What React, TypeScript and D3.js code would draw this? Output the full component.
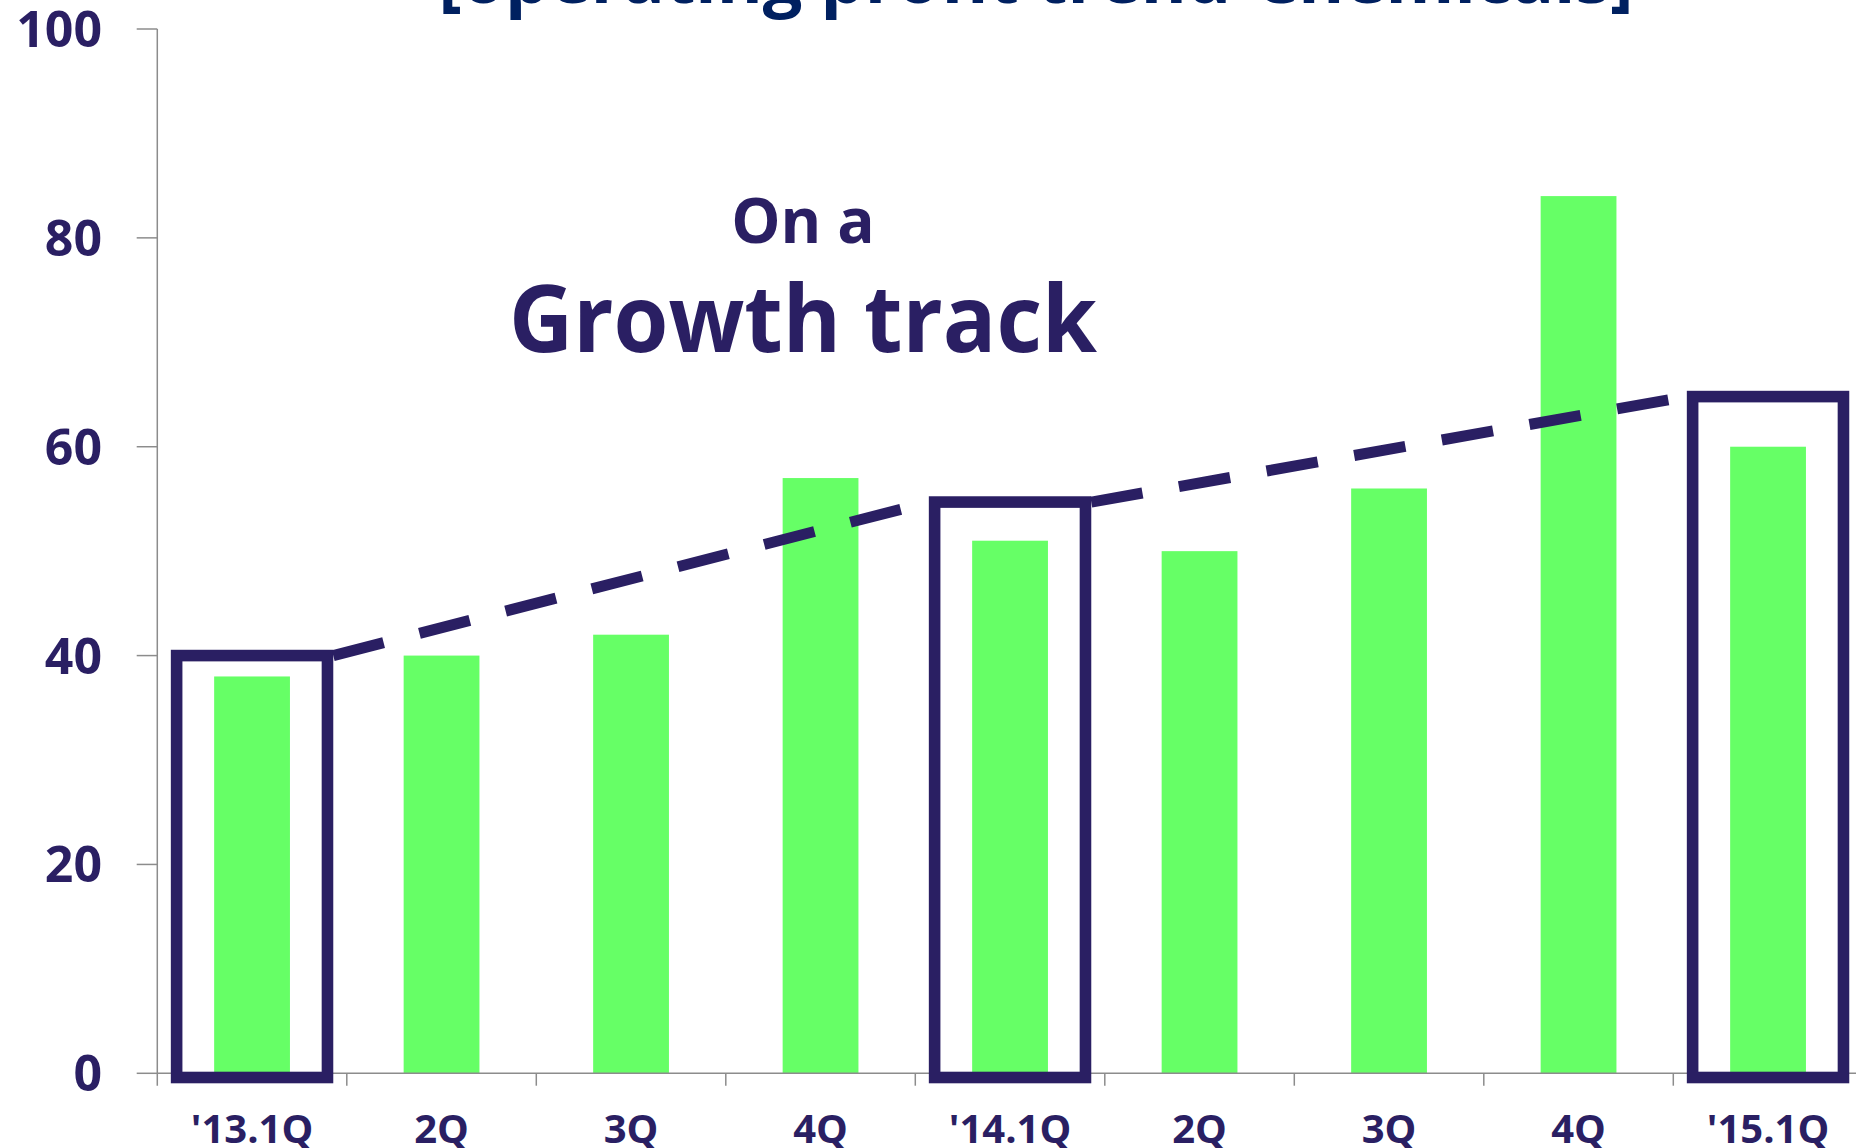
import React from "react";
import * as d3 from "d3";

const categories = ["'13.1Q", "2Q", "3Q", "4Q", "'14.1Q", "2Q ", "3Q ", "4Q ", "'15.1Q"];
const categoryLabels = ["'13.1Q", "2Q", "3Q", "4Q", "'14.1Q", "2Q", "3Q", "4Q", "'15.1Q"];
const profitValues = [38, 40, 42, 57, 51, 50, 56, 84, 60];
const yTicks = [0, 20, 40, 60, 80, 100];
const highlightIndices = [0, 4, 8];
const highlightTops = [40, 54.7, 64.8];
const titleText = "[operating profit trend-Chemicals]";
const annotationSmall = "On a";
const annotationLarge = "Growth track";

const W = 1856;
const H = 1148;
const NAVY = "#2a1f63";
const TITLE = "#002060";
const GREEN = "#66ff66";
const AXIS = "#8c8c8c";
const FONT = "'Open Sans', 'Noto Sans', sans-serif";

export default function App() {
  const x0 = 157.3;
  const band = 189.5;
  const x = d3
    .scaleBand<string>()
    .domain(categories)
    .range([x0, x0 + band * categories.length])
    .paddingInner(0)
    .paddingOuter(0);
  const y = d3.scaleLinear().domain([0, 100]).range([1073.3, 29]);
  const bw = x.bandwidth();
  const barW = bw * 0.4;
  const boxW = bw * 0.796;
  const boxStroke = 11.6;

  const boxes = highlightIndices.map((idx, i) => {
    const cx = (x(categories[idx]) as number) + bw / 2;
    return {
      cx,
      left: cx - boxW / 2,
      right: cx + boxW / 2,
      top: y(highlightTops[i]),
      bottom: y(0) + 4.2,
    };
  });

  const segs: [[number, number], [number, number]][] = d3.pairs(boxes).map(([a, b]) => [
    [a.right + boxStroke / 2, a.top],
    [b.left - boxStroke / 2, b.top],
  ]);

  return (
    <svg
      width={W}
      height={H}
      style={{ position: "absolute", left: 0, top: 0, background: "#fff" }}
      fontFamily={FONT}
    >
      <text
        x={1036}
        y={3}
        textAnchor="middle"
        fontSize={69}
        fontWeight={700}
        fill={TITLE}
        textLength={1195}
        lengthAdjust="spacingAndGlyphs"
      >
        {titleText}
      </text>

      {profitValues.map((v, i) => {
        const cx = (x(categories[i]) as number) + bw / 2;
        return (
          <rect
            key={i}
            x={cx - barW / 2}
            y={y(v)}
            width={barW}
            height={y(0) - y(v)}
            fill={GREEN}
          />
        );
      })}

      <line x1={x0} x2={x0} y1={y(100)} y2={y(0) + 12.4} stroke={AXIS} strokeWidth={1.5} />
      {yTicks.map((t) => (
        <g key={t}>
          <line x1={x0 - 20.6} x2={x0} y1={y(t)} y2={y(t)} stroke={AXIS} strokeWidth={1.5} />
          <text
            x={102}
            y={y(t)}
            dy="0.36em"
            textAnchor="end"
            fontSize={50}
            fontWeight={700}
            fill={NAVY}
          >
            {t}
          </text>
        </g>
      ))}

      <line x1={x0} x2={W} y1={y(0)} y2={y(0)} stroke={AXIS} strokeWidth={1.5} />
      {categories.map((c, i) => (
        <line
          key={"t" + i}
          x1={(x(c) as number) + bw}
          x2={(x(c) as number) + bw}
          y1={y(0)}
          y2={y(0) + 12.4}
          stroke={AXIS}
          strokeWidth={1.5}
        />
      ))}
      {categories.map((c, i) => (
        <text
          key={"l" + i}
          x={(x(c) as number) + bw / 2}
          y={1143}
          textAnchor="middle"
          fontSize={40}
          fontWeight={700}
          fill={NAVY}
        >
          {categoryLabels[i]}
        </text>
      ))}

      {boxes.map((b, i) => (
        <rect
          key={"b" + i}
          x={b.left}
          y={b.top}
          width={b.right - b.left}
          height={b.bottom - b.top}
          fill="none"
          stroke={NAVY}
          strokeWidth={boxStroke}
        />
      ))}

      {segs.map(([a, b], i) => (
        <line
          key={"s" + i}
          x1={a[0]}
          y1={a[1]}
          x2={b[0]}
          y2={b[1]}
          stroke={NAVY}
          strokeWidth={11}
          strokeDasharray="52 37"
        />
      ))}

      <text x={803} y={243} textAnchor="middle" fontSize={62} fontWeight={700} fill={NAVY}>
        {annotationSmall}
      </text>
      <text
        x={803}
        y={352}
        textAnchor="middle"
        fontSize={94}
        fontWeight={700}
        fill={NAVY}
        textLength={588}
        lengthAdjust="spacingAndGlyphs"
      >
        {annotationLarge}
      </text>
    </svg>
  );
}
